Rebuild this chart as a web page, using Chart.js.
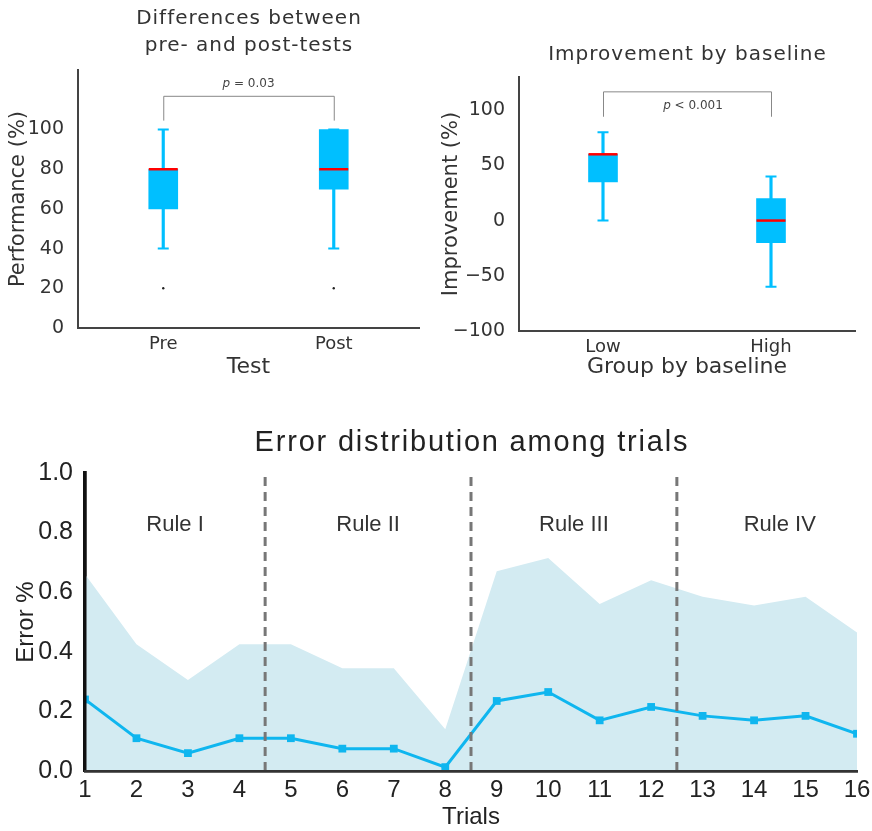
<!DOCTYPE html>
<html>
<head>
<meta charset="utf-8">
<script src="https://cdn.jsdelivr.net/npm/chart.js@4/dist/chart.umd.min.js"></script>
<style>
  body { margin: 0; background: #fff; }
  .box { position: absolute; }
</style>
</head>
<body>
<div class="box" style="left:0;top:0"><canvas id="prePost" width="436" height="390"></canvas></div>
<div class="box" style="left:436px;top:0"><canvas id="baseline" width="436" height="390"></canvas></div>
<div class="box" style="left:0;top:400px"><canvas id="trials" width="872" height="431"></canvas></div>
<script>
// --- pre/post test box plot ---
const testLabels = ['Pre', 'Post'];
const testMin = [40, 40];
const testQ1 = [60, 70];
const testMedian = [80, 80];
const testQ3 = [80, 100];
const testMax = [100, 100];
const testOutliers = [20, 20];
const perfTicks = [0, 20, 40, 60, 80, 100];

// --- improvement by baseline box plot ---
const groupLabels = ['Low', 'High'];
const groupMin = [0, -60];
const groupQ1 = [35, -20];
const groupMedian = [60, 0];
const groupQ3 = [60, 20];
const groupMax = [80, 40];
const groupOutliers = [null, null];
const improveTicks = [-100, -50, 0, 50, 100];

// --- error distribution among trials ---
const trials = [1, 2, 3, 4, 5, 6, 7, 8, 9, 10, 11, 12, 13, 14, 15, 16];
const errorMean = [0.24, 0.11, 0.06, 0.11, 0.11, 0.075, 0.075, 0.013, 0.235, 0.265, 0.17, 0.215, 0.185, 0.17, 0.185, 0.125];
const errorUpper = [0.66, 0.425, 0.305, 0.425, 0.425, 0.345, 0.345, 0.14, 0.67, 0.715, 0.56, 0.64, 0.585, 0.555, 0.585, 0.465];
const ruleBreaks = [4.5, 8.5, 12.5];
const ruleNames = ['Rule I', 'Rule II', 'Rule III', 'Rule IV'];
const ruleCenters = [2.75, 6.5, 10.5, 14.5];
const errorTicks = [0, 0.2, 0.4, 0.6, 0.8, 1.0];

const BLUE = '#00bfff';
const TXT = '#333';
const FONT = "'DejaVu Sans', sans-serif";
const ARIAL = "'Liberation Sans', Arial, sans-serif";

// title drawn over the plot area centre, a bit wider-spaced than chart.js would do it
const spacedTitle = {
    id: 'spacedTitle',
    afterDraw(chart, args, opts) {
        const ctx = chart.ctx, a = chart.chartArea;
        ctx.save();
        ctx.fillStyle = opts.color;
        ctx.font = opts.font;
        ctx.letterSpacing = opts.spacing + 'px';
        ctx.textAlign = 'center';
        ctx.textBaseline = 'middle';
        opts.lines.forEach((t, i) => ctx.fillText(t, (a.left + a.right) / 2 + opts.spacing / 2, opts.ys[i]));
        ctx.restore();
    }
};

// bracket + p value over the two boxes
const bracketPlugin = {
    id: 'bracket',
    afterDatasetsDraw(chart, args, opts) {
        const x = chart.scales.x, y = chart.scales.y, ctx = chart.ctx;
        const x1 = x.getPixelForValue(0), x2 = x.getPixelForValue(1);
        const yt = y.getPixelForValue(opts.top), yb = y.getPixelForValue(opts.end);
        ctx.save();
        ctx.strokeStyle = '#888';
        ctx.lineWidth = 1;
        ctx.beginPath();
        ctx.moveTo(x1 + 0.5, yb);
        ctx.lineTo(x1 + 0.5, yt + 0.5);
        ctx.lineTo(x2 + 0.5, yt + 0.5);
        ctx.lineTo(x2 + 0.5, yb);
        ctx.stroke();
        // italic p then the rest
        ctx.fillStyle = '#444';
        ctx.textBaseline = 'middle';
        ctx.font = 'italic 12px ' + FONT;
        const wp = ctx.measureText('p').width;
        ctx.font = '12px ' + FONT;
        const wr = ctx.measureText(opts.text).width;
        const cx = (x1 + x2) / 2 + opts.dx;
        const ty = y.getPixelForValue(opts.textY);
        const sx = cx - (wp + wr) / 2;
        ctx.font = 'italic 12px ' + FONT;
        ctx.fillText('p', sx, ty);
        ctx.font = '12px ' + FONT;
        ctx.fillText(opts.text, sx + wp, ty);
        ctx.restore();
    }
};

function boxChart(id, o) {
    const ctx = document.getElementById(id);
    return new Chart(ctx, {
        type: 'bar',
        data: {
            labels: o.labels,
            datasets: [
                { type: 'line', data: o.median, showLine: false, pointStyle: 'line', pointRadius: 14.5,
                  pointBorderColor: '#ff0000', pointBorderWidth: 2.5 },
                { type: 'line', data: o.max, showLine: false, pointStyle: 'line', pointRadius: 5.5,
                  pointBorderColor: BLUE, pointBorderWidth: 2 },
                { type: 'line', data: o.min, showLine: false, pointStyle: 'line', pointRadius: 5.5,
                  pointBorderColor: BLUE, pointBorderWidth: 2 },
                { type: 'line', data: o.outliers, showLine: false, pointStyle: 'circle', pointRadius: 1.2,
                  pointBackgroundColor: '#222', pointBorderColor: '#222', pointBorderWidth: 0 },
                { data: o.q1.map((v, i) => [v, o.q3[i]]), backgroundColor: BLUE,
                  barThickness: 29, grouped: false },
                { data: o.min.map((v, i) => [v, o.max[i]]), backgroundColor: BLUE,
                  barThickness: 2.5, grouped: false }
            ]
        },
        options: {
            responsive: false,
            animation: false,
            layout: { padding: { left: 0, right: 8, top: o.top, bottom: 0 } },
            plugins: {
                legend: { display: false },
                tooltip: { enabled: false },
                spacedTitle: { lines: o.title, ys: o.titleY, font: '20px ' + FONT, spacing: 1, color: TXT },
                bracket: o.bracket
            },
            scales: {
                x: {
                    offset: true,
                    grid: { display: false },
                    border: { color: '#444', width: 2 },
                    ticks: { color: TXT, font: { family: FONT, size: 18 }, padding: -2 },
                    title: { display: true, text: o.xTitle, color: TXT,
                             font: { family: FONT, size: 22 }, padding: { top: 0, bottom: 10 } },
                    afterFit: s => { s.height = o.xHeight; }
                },
                y: {
                    min: o.yMin, max: o.yMax,
                    grid: { display: false },
                    border: { color: '#444', width: 2 },
                    afterBuildTicks: s => { s.ticks = o.ticks.map(v => ({ value: v })); },
                    ticks: { color: TXT, font: { family: FONT, size: 19 }, padding: 6,
                             callback: v => v < 0 ? '\u2212' + Math.abs(v) : String(v) },
                    title: { display: true, text: o.yTitle, color: TXT,
                             font: { family: FONT, size: 21 }, padding: { top: o.yTitleTop, bottom: 0 } },
                    afterFit: s => { s.width = o.yWidth; }
                }
            }
        },
        plugins: [bracketPlugin, spacedTitle]
    });
}

boxChart('prePost', {
    labels: testLabels, min: testMin, q1: testQ1, median: testMedian, q3: testQ3, max: testMax,
    outliers: testOutliers, ticks: perfTicks, yMin: 0, yMax: 130, top: 70,
    title: ['Differences between', 'pre- and post-tests'], titleY: [19, 46],
    xTitle: 'Test', yTitle: 'Performance (%)', xHeight: 62, yWidth: 78, yTitleTop: 6,
    bracket: { top: 117, end: 104.5, text: ' = 0.03', textY: 123, dx: 0 }
});

boxChart('baseline', {
    labels: groupLabels, min: groupMin, q1: groupQ1, median: groupMedian, q3: groupQ3, max: groupMax,
    outliers: groupOutliers, ticks: improveTicks, yMin: -100, yMax: 130, top: 77,
    title: ['Improvement by baseline'], titleY: [55],
    xTitle: 'Group by baseline', yTitle: 'Improvement (%)', xHeight: 59, yWidth: 83, yTitleTop: 3,
    bracket: { top: 117, end: 94, text: ' < 0.001', textY: 103.5, dx: 6 }
});

// --- bottom chart ---
const ruleLabelPlugin = {
    id: 'ruleLabels',
    afterDatasetsDraw(chart) {
        const x = chart.scales.x, y = chart.scales.y, ctx = chart.ctx;
        ctx.save();
        ctx.fillStyle = TXT;
        ctx.font = '22px ' + ARIAL;
        ctx.textAlign = 'center';
        ctx.textBaseline = 'middle';
        ruleNames.forEach((n, i) => {
            ctx.fillText(n, x.getPixelForValue(ruleCenters[i]), y.getPixelForValue(0.825));
        });
        // axes sit on top of the shaded band
        chart.scales.y.drawBorder();
        chart.scales.x.drawBorder();
        ctx.restore();
    }
};

const breakSets = ruleBreaks.map(b => ({
    data: [{ x: b, y: 0 }, { x: b, y: 1 }],
    borderColor: '#777', borderWidth: 3, borderDash: [9, 6], pointRadius: 0, fill: false
}));

new Chart(document.getElementById('trials'), {
    type: 'line',
    data: {
        datasets: [
            ...breakSets,
            { data: trials.map((t, i) => ({ x: t, y: errorMean[i] })), borderColor: '#0fb6ef', borderWidth: 3,
              pointStyle: 'rect', pointRadius: 5.5, pointBackgroundColor: '#0fb6ef', pointBorderWidth: 0,
              fill: false },
            { data: trials.map((t, i) => ({ x: t, y: errorUpper[i] })), borderWidth: 0, pointRadius: 0,
              backgroundColor: '#d3ebf2', fill: 'origin' }
        ]
    },
    options: {
        responsive: false,
        animation: false,
        layout: { padding: { left: 0, right: 15, top: 73, bottom: 0 } },
        plugins: {
            legend: { display: false },
            tooltip: { enabled: false },
            spacedTitle: { lines: ['Error distribution among trials'], ys: [43], font: '29px ' + ARIAL,
                           spacing: 1.8, color: '#222' }
        },
        scales: {
            x: {
                type: 'linear', min: 1, max: 16,
                grid: { display: false },
                border: { color: '#333', width: 2.5 },
                afterBuildTicks: s => { s.ticks = trials.map(v => ({ value: v })); },
                ticks: { color: '#222', font: { family: ARIAL, size: 24 }, padding: -3 },
                title: { display: true, text: 'Trials', color: '#222',
                         font: { family: ARIAL, size: 24 }, padding: { top: 0, bottom: -1 } },
                afterFit: s => { s.height = 60; }
            },
            y: {
                min: 0, max: 1,
                grid: { display: false },
                border: { color: '#111', width: 3.5 },
                afterBuildTicks: s => { s.ticks = errorTicks.map(v => ({ value: v })); },
                ticks: { color: '#222', font: { family: ARIAL, size: 25 }, padding: 4,
                         callback: v => v.toFixed(1) },
                title: { display: true, text: 'Error %', color: '#222',
                         font: { family: ARIAL, size: 24 }, padding: { top: 12, bottom: 0 } },
                afterFit: s => { s.width = 85; }
            }
        }
    },
    plugins: [ruleLabelPlugin, spacedTitle]
});
</script>
</body>
</html>
